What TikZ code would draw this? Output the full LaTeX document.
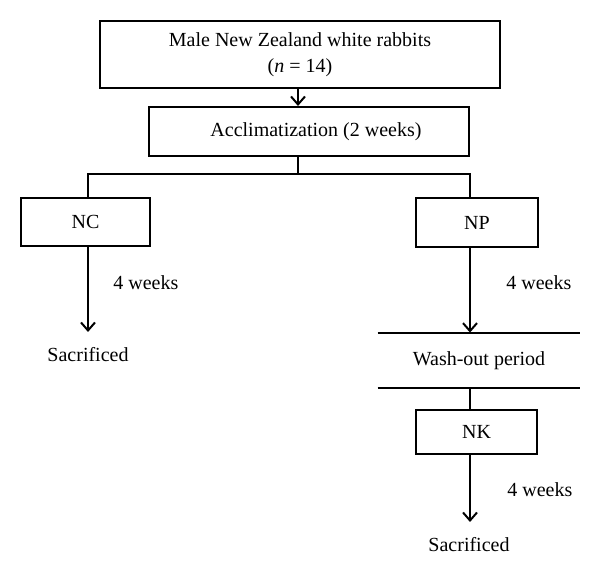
\documentclass[tikz,border=0pt]{standalone}
\usepackage{fontspec}
\setmainfont{Liberation Serif}
\usetikzlibrary{arrows.meta}
\begin{document}
\begin{tikzpicture}[x=0.5pt,y=-0.5pt,
  every node/.style={font=\fontsize{10}{12}\selectfont, inner sep=0pt},
  box/.style={draw, line width=1pt, align=center},
  conn/.style={line width=1pt},
  arr/.style={conn, -{Straight Barb[length=4pt,width=7pt,line width=1pt]}},
  lbl/.style={anchor=west}
]
\useasboundingbox (0,0) rectangle (600,576);
% nodes
\node[box, minimum width=200pt, minimum height=33.5pt] (top) at (300,54.5)
  {Male New Zealand white rabbits\\[1pt](\textit{n}~=~14)};
\node[box, minimum width=160pt, minimum height=24.5pt] (acc) at (309,131.5)
  {\hspace*{7pt}Acclimatization (2 weeks)};
\node[box, minimum width=64.5pt, minimum height=24pt] (nc) at (85.5,222) {NC};
\node[box, minimum width=61pt, minimum height=24.5pt] (np) at (477,222.5) {NP};
\node[minimum width=101pt, minimum height=27.5pt] (wash) at (479,360.5) {Wash-out period};
\node[box, minimum width=60.5pt, minimum height=22pt] (nk) at (476.5,432) {NK};
\node (s1) at (88,355) {Sacrificed};
\node (s2) at (469,545) {Sacrificed};
\node[lbl] (w1) at (113,283) {4 weeks};
\node[lbl] (w2) at (506,283) {4 weeks};
\node[lbl] (w3) at (507,490) {4 weeks};
% reference columns
\coordinate (c0) at (298,0);
\coordinate (cl) at (88,0);
\coordinate (cr) at (470,0);
\coordinate (split) at (298,174);
\coordinate (e1) at (88,332);
\coordinate (e3) at (470,522);
% connectors
\draw[arr] (top.south -| c0) -- (acc.north -| c0);
\draw[conn] (acc.south -| c0) -- (split);
\draw[conn] (nc.north -| cl) |- (split) -| (np.north -| cr);
\draw[arr] (nc.south -| cl) -- (e1);
\draw[arr] (np.south -| cr) -- (wash.north -| cr);
\draw[conn] (wash.north west) -- (wash.north east);
\draw[conn] (wash.south west) -- (wash.south east);
\draw[conn] (wash.south -| cr) -- (nk.north -| cr);
\draw[arr] (nk.south -| cr) -- (e3);
\end{tikzpicture}
\end{document}
